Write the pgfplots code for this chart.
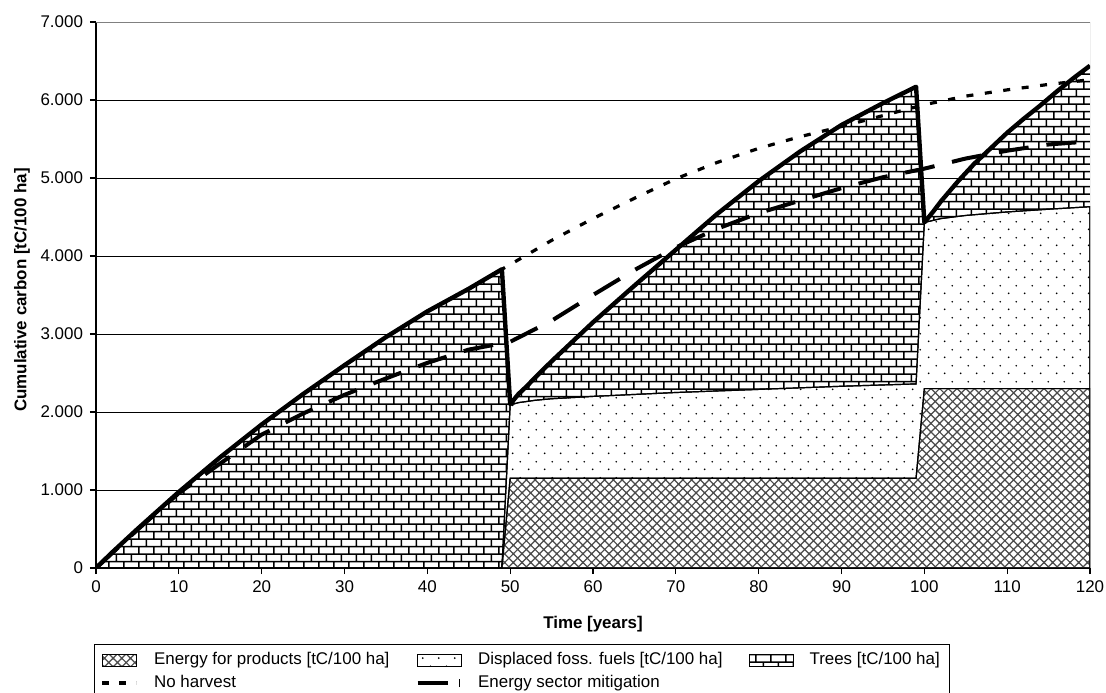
\documentclass[border=0pt]{standalone}
\usepackage{fontspec}
\setmainfont{Liberation Sans}
\usepackage{pgfplots}
\pgfplotsset{compat=1.18}
\usetikzlibrary{patterns}

\pgfdeclarepatternformonly{mybricks}{\pgfpointorigin}{\pgfpoint{7.7bp}{7.7bp}}{\pgfpoint{7.7bp}{7.7bp}}{%
  \pgfsetlinewidth{0.8bp}%
  \pgfpathmoveto{\pgfpoint{0bp}{0.5bp}}\pgfpathlineto{\pgfpoint{7.7bp}{0.5bp}}%
  \pgfpathmoveto{\pgfpoint{0bp}{4.35bp}}\pgfpathlineto{\pgfpoint{7.7bp}{4.35bp}}%
  \pgfpathmoveto{\pgfpoint{1bp}{0.5bp}}\pgfpathlineto{\pgfpoint{1bp}{4.35bp}}%
  \pgfpathmoveto{\pgfpoint{4.85bp}{4.35bp}}\pgfpathlineto{\pgfpoint{4.85bp}{7.7bp}}%
  \pgfpathmoveto{\pgfpoint{4.85bp}{0bp}}\pgfpathlineto{\pgfpoint{4.85bp}{0.5bp}}%
  \pgfusepath{stroke}}
\pgfdeclarepatternformonly{mydots}{\pgfpointorigin}{\pgfpoint{7.75bp}{7.75bp}}{\pgfpoint{7.75bp}{7.75bp}}{%
  \pgfpathcircle{\pgfpoint{1.9bp}{1.9bp}}{0.5bp}%
  \pgfpathcircle{\pgfpoint{5.8bp}{5.8bp}}{0.5bp}%
  \pgfusepath{fill}}
\pgfdeclarepatternformonly{myhatch}{\pgfpoint{-0.5bp}{-0.5bp}}{\pgfpoint{4.85bp}{4.85bp}}{\pgfpoint{4.35bp}{4.35bp}}{%
  \pgfsetlinewidth{0.6bp}%
  \pgfpathmoveto{\pgfpoint{-0.5bp}{-0.5bp}}\pgfpathlineto{\pgfpoint{4.85bp}{4.85bp}}%
  \pgfpathmoveto{\pgfpoint{-0.5bp}{4.85bp}}\pgfpathlineto{\pgfpoint{4.85bp}{-0.5bp}}%
  \pgfusepath{stroke}}

\pgfplotstableread{
t v
0 0
2 205
5 500
10 975
15 1420
20 1840
25 2230
30 2600
35 2960
40 3290
45 3580
49 3830
50 2100
51 2230
52 2330
53 2440
55 2650
60 3150
65 3620
70 4080
75 4540
80 4960
85 5340
90 5680
95 5960
99 6170
100 4430
101 4560
102 4700
104 4950
106 5180
108 5380
110 5580
112 5760
114 5930
116 6110
118 6280
120 6440
}\trees

\pgfplotstableread{
t v
0 0
49 0
50 2090
51 2120
53 2150
55 2170
60 2200
70 2250
80 2290
90 2330
99 2360
100 4430
102 4480
105 4520
110 4565
115 4600
120 4632
}\displaced

\pgfplotstableread{
t v
0 0
49 0
50 1150
99 1150
100 2300
120 2300
}\products

\pgfplotstableread{
t v
0 0
2 205
5 500
10 975
15 1420
20 1840
25 2230
30 2600
35 2960
40 3290
45 3580
49 3830
50 3890
55 4200
60 4480
65 4740
70 4990
75 5200
80 5380
85 5530
90 5660
95 5800
100 5940
105 6050
110 6130
115 6200
120 6260
}\noharvest

\pgfplotstableread{
t v
0 0
5 490
10 960
15 1340
20 1710
25 1980
30 2220
35 2430
40 2630
45 2800
50 2900
55 3170
60 3500
65 3820
70 4110
75 4350
80 4550
85 4710
90 4870
95 5010
100 5120
105 5250
110 5350
115 5430
120 5470
}\mitigation

\begin{document}
\begin{tikzpicture}
\path[use as bounding box] (0,0) rectangle (553bp,346.5bp);
\begin{axis}[
  at={(48bp,62.5bp)}, anchor=south west,
  scale only axis, width=497bp, height=273bp,
  xmin=0, xmax=120, ymin=0, ymax=7000,
  axis x line*=bottom, axis y line*=left,
  axis line style={black, line width=0.6bp},
  xtick={0,10,...,120}, ytick={0,1000,...,7000},
  tick align=outside, major tick length=3bp,
  tick style={black, line width=0.6bp},
  ymajorgrids, grid style={black, line width=0.5bp},
  tick label style={font=\fontsize{8.5}{10}\selectfont},
  /pgf/number format/assume math mode=true,
  yticklabel style={/pgf/number format/.cd, 1000 sep={.}},
  scaled y ticks=false,
  xlabel={Time [years]}, ylabel={Cumulative carbon [tC/100 ha]},
  label style={font=\bfseries\fontsize{8.5}{10}\selectfont},
  xlabel style={at={(axis description cs:0.5,-0.1026)}, anchor=center},
  ylabel style={at={(axis description cs:-0.0744,0.509)}, anchor=center},
  legend columns=3,
  legend cell align=left,
  legend style={at={(axis description cs:-0.002,-0.139)}, anchor=north west,
    draw=black, line width=0.5bp, font=\fontsize{8.5}{10}\selectfont,
    inner xsep=3bp, inner ysep=2bp,
    /tikz/every odd column/.append style={column sep=6bp},
    /tikz/every even column/.append style={column sep=11bp}},
]
\addplot[draw=none, preaction={fill=white}, pattern=mybricks, forget plot] table {\trees} \closedcycle;
\addplot[draw=black, line width=0.6bp, preaction={fill=white}, pattern=mydots, forget plot] table {\displaced} \closedcycle;
\addplot[draw=black, line width=0.6bp, preaction={fill=white}, pattern=myhatch, pattern color=black!70, forget plot] table {\products} \closedcycle;

\addlegendimage{legend image code/.code={\draw[line width=0.5bp, preaction={fill=white}, pattern=myhatch, pattern color=black!70] (0bp,-3bp) rectangle (17bp,3bp);}}
\addlegendentry{Energy for products [tC/100 ha]}
\addlegendimage{legend image code/.code={\draw[line width=0.5bp, preaction={fill=white}, pattern=mydots] (0bp,-3bp) rectangle (22bp,3bp);}}
\addlegendentry{Displaced foss. fuels [tC/100 ha]}
\addlegendimage{legend image code/.code={\draw[line width=0.5bp, preaction={fill=white}, pattern=mybricks] (0bp,-3bp) rectangle (22bp,3bp);}}
\addlegendentry{Trees [tC/100 ha]}

\addplot[black, line width=1.6bp, dash pattern=on 3.5bp off 5.8bp,
  legend image code/.code={\draw[black, line width=1.8bp, dash pattern=on 3.5bp off 5bp] (0bp,0bp) -- (17bp,0bp);}] table {\noharvest};
\addlegendentry{No harvest}
\addplot[black, line width=2bp, dash pattern=on 15bp off 9bp,
  legend image code/.code={\draw[black, line width=2.2bp] (0bp,0bp) -- (17bp,0bp); \draw[black, line width=0.5bp] (21bp,-2bp) -- (21bp,2bp);}] table {\mitigation};
\addlegendentry{Energy sector mitigation}

\addplot[black, line width=2.2bp, line join=round, forget plot] table {\trees};
\draw[black!50, line width=0.5bp] (rel axis cs:0,1) -- (rel axis cs:1,1) -- (rel axis cs:1,0);
\end{axis}
\end{tikzpicture}
\end{document}
